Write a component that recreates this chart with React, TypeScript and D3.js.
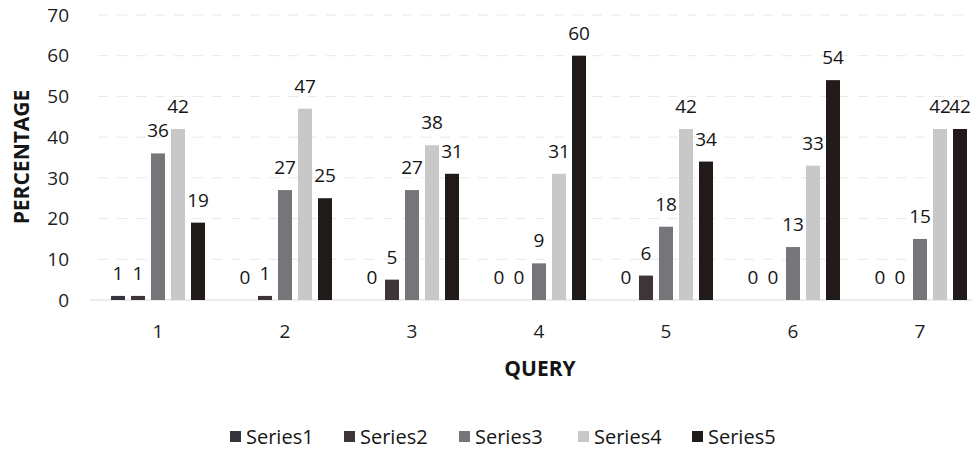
import React from "react";
import * as d3 from "d3";

const categories = ["1", "2", "3", "4", "5", "6", "7"];
const seriesNames = ["Series1", "Series2", "Series3", "Series4", "Series5"];
const series1 = [1, 0, 0, 0, 0, 0, 0];
const series2 = [1, 1, 5, 0, 6, 0, 0];
const series3 = [36, 27, 27, 9, 18, 13, 15];
const series4 = [42, 47, 38, 31, 42, 33, 42];
const series5 = [19, 25, 31, 60, 34, 54, 42];
const yTicks = [0, 10, 20, 30, 40, 50, 60, 70];
const colors = ["#36333a", "#3d3537", "#767579", "#c8c8c8", "#201b19"];

const W = 972;
const H = 451;
const FONT = "'Open Sans', 'Noto Sans', sans-serif";

export default function App() {
  const allSeries = [series1, series2, series3, series4, series5];
  const x = d3.scaleBand<string>().domain(categories).range([94.5, 94.5 + 7 * 127]).padding(0);
  const inner = d3
    .scaleBand<string>()
    .domain(seriesNames)
    .range([-50, 50])
    .paddingInner(0.3)
    .paddingOuter(0.15);
  const y = d3.scaleLinear().domain([0, 70]).range([300, 15]);

  const legendX = [230, 344, 459, 578, 692];

  return (
    <svg width={W} height={H} style={{ display: "block", position: "absolute", left: 0, top: 0, background: "#fff" }} fontFamily={FONT}>
      <rect x={0} y={0} width={W} height={H} fill="#fff" />
      {yTicks.map((t) => (
        <line
          key={"g" + t}
          x1={t === 0 ? 90 : 98}
          x2={W}
          y1={y(t)}
          y2={y(t)}
          stroke={t === 0 ? "#d9d9d9" : "#e8e8e8"}
          strokeWidth={1}
          strokeDasharray={t === 0 ? "none" : "10 9"}
        />
      ))}
      {yTicks.map((t) => (
        <text key={"t" + t} x={69} y={y(t)} dy="0.35em" textAnchor="end" fontSize={19} fill="#1e1e1e">
          {t}
        </text>
      ))}
      {categories.map((c, ci) =>
        allSeries.map((s, si) => {
          const cx = (x(c) as number) + x.bandwidth() / 2;
          const bx = cx + (inner(seriesNames[si]) as number);
          const v = s[ci];
          return (
            <g key={c + "-" + si}>
              {v > 0 && (
                <rect x={bx} y={y(v)} width={inner.bandwidth()} height={y(0) - y(v)} fill={colors[si]} />
              )}
              <text
                x={bx + inner.bandwidth() / 2}
                y={y(v) - 16}
                textAnchor="middle"
                fontSize={19}
                fill="#151515"
              >
                {v}
              </text>
            </g>
          );
        })
      )}
      {categories.map((c) => (
        <text
          key={"x" + c}
          x={(x(c) as number) + x.bandwidth() / 2}
          y={338}
          textAnchor="middle"
          fontSize={19}
          fill="#1e1e1e"
        >
          {c}
        </text>
      ))}
      <text x={540} y={376} textAnchor="middle" fontSize={21} fontWeight="bold" fill="#151515">
        QUERY
      </text>
      <text
        transform="translate(29,157) rotate(-90)"
        textAnchor="middle"
        fontSize={21}
        fontWeight="bold"
        fill="#151515"
      >
        PERCENTAGE
      </text>
      {seriesNames.map((n, i) => (
        <g key={"l" + n}>
          <rect x={legendX[i]} y={431} width={11} height={11} fill={colors[i]} />
          <text x={legendX[i] + 16} y={444} fontSize={20} fill="#151515">
            {n}
          </text>
        </g>
      ))}
    </svg>
  );
}
